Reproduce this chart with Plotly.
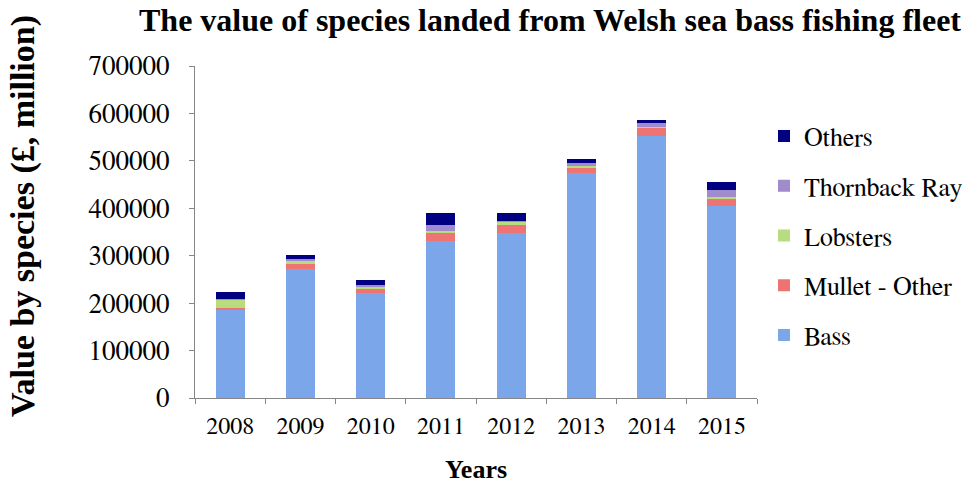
import plotly.graph_objects as go

years = ["2008", "2009", "2010", "2011", "2012", "2013", "2014", "2015"]
bass = [185000, 272000, 222000, 331000, 348000, 474000, 553000, 405000]
mullet = [5600, 9800, 7800, 17600, 16900, 11200, 17600, 14800]
lobsters = [17600, 9100, 5000, 3500, 7000, 4200, 1400, 3500]
thornback = [1000, 2100, 3500, 12600, 2100, 5600, 7000, 15500]
others = [14800, 8400, 10500, 25300, 16200, 8400, 7000, 16900]

series = [
    ("Bass", bass, "#7BA7EA"),
    ("Mullet - Other", mullet, "#EE7373"),
    ("Lobsters", lobsters, "#B8DC7E"),
    ("Thornback Ray", thornback, "#A08BCD"),
    ("Others", others, "#000080"),
]

BOLD = "Liberation Serif"
REG = "FreeSerif, Liberation Serif, serif"

fig = go.Figure()
for i, (name, vals, col) in enumerate(series):
    fig.add_trace(go.Bar(
        x=years, y=vals, name=name, legendgroup=name,
        legendrank=1000 - i,
        marker=dict(color=col, line=dict(width=0)),
    ))

fig.update_layout(
    barmode="stack",
    bargap=0.585,
    width=968, height=484,
    margin=dict(l=195, r=211, t=66, b=86, autoexpand=False),
    paper_bgcolor="white", plot_bgcolor="white",
    font=dict(family=REG, color="black"),
    title=dict(
        text="<b>The value of species landed from Welsh sea bass fishing fleet</b>",
        font=dict(family=BOLD, size=32, color="black"),
        x=550 / 968, xanchor="center", xref="container",
        y=1 - 20 / 484, yanchor="middle", yref="container",
    ),
    legend=dict(
        font=dict(family=REG, size=26),
        tracegroupgap=13,
        x=(764 - 195) / 562, xanchor="left", xref="paper",
        y=(398 - 236) / 332, yanchor="middle",
        bgcolor="rgba(0,0,0,0)",
    ),
    xaxis=dict(
        showline=True, linecolor="#868686", linewidth=1,
        ticks="outside", tickson="boundaries", ticklen=5, tickcolor="#868686",
        tickfont=dict(family=REG, size=24),
        ticklabelstandoff=6,
        title=dict(text="<b>Years</b>", font=dict(family=BOLD, size=26), standoff=22),
    ),
    yaxis=dict(
        range=[0, 700000], dtick=100000,
        showline=True, linecolor="#868686", linewidth=1,
        ticks="outside", ticklen=5, tickcolor="#868686",
        showgrid=False, zeroline=False,
        tickfont=dict(family=REG, size=27),
        ticklabelstandoff=14,
        tickformat="d",
    ),
    annotations=[dict(
        text="<b>Value by species (£, million)</b>",
        textangle=-90, showarrow=False,
        xref="paper", yref="paper",
        x=(23 - 195) / 562, xanchor="center",
        y=(398 - 216) / 332, yanchor="middle",
        font=dict(family=BOLD, size=34, color="black"),
    )],
)

fig.write_html("out.html")
